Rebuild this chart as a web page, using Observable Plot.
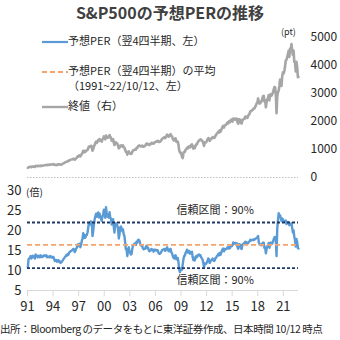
<!DOCTYPE html>
<html><head><meta charset="utf-8">
<script src="https://cdn.jsdelivr.net/npm/d3@7"></script>
<script src="https://cdn.jsdelivr.net/npm/@observablehq/plot@0.6"></script>
<style>
body{margin:0;background:#fff;font-family:"Noto Sans CJK JP","Noto Sans",sans-serif;}
#root{position:relative;width:340px;height:340px;overflow:hidden;color:#262626;background:#fff}
.abs{position:absolute;white-space:nowrap;line-height:1}
#topPlot,#botPlot{position:absolute;left:0}
#topPlot{top:18px}
#botPlot{top:172px}
.plot-wrap svg{background:transparent;overflow:visible}
.leg{font-size:11px;color:#262626}
</style></head><body><div id="root">
<div id="topPlot" class="plot-wrap"></div>
<div id="botPlot" class="plot-wrap"></div>
<div class="abs" style="left:0;width:340px;top:4px;text-align:center;font-weight:bold;font-size:16px;color:#404040">S&amp;P500の予想PERの推移</div>
<div class="abs leg" style="left:42px;top:35px"><svg width="26" height="10" style="vertical-align:middle"><line x1="0" x2="26" y1="5" y2="5" stroke="#5b9bd5" stroke-width="2.2"/></svg>予想PER（翌4四半期、左）</div>
<div class="abs leg" style="left:42px;top:65px"><svg width="26" height="10" style="vertical-align:middle"><line x1="0" x2="26" y1="5" y2="5" stroke="#f4a46c" stroke-width="2" stroke-dasharray="5,3"/></svg>予想PER（翌4四半期）の平均</div>
<div class="abs leg" style="left:68px;top:80px">（1991~22/10/12、左）</div>
<div class="abs leg" style="left:42px;top:100px"><svg width="26" height="10" style="vertical-align:middle"><line x1="0" x2="26" y1="5" y2="5" stroke="#a6a6a6" stroke-width="2.4"/></svg>終値（右）</div>
<div class="abs" style="left:281px;top:27px;font-size:9px">(pt)</div>
<div class="abs" style="left:26px;top:187px;font-size:10px">(倍)</div>
<div class="abs" style="left:0;top:324px;font-size:10.5px;letter-spacing:-0.45px">出所：Bloomberg のデータをもとに東洋証券作成、日本時間 10/12 時点</div>
</div>
<script>
// S&P500 monthly close, Jan 1991 - Oct 2022 (pt)
const spx = [
343,367,375,375,390,371,388,395,388,392,375,417,
409,413,404,415,415,408,424,414,418,419,431,436,
439,443,452,440,450,451,448,464,459,468,462,466,
482,467,446,451,457,444,458,475,463,472,454,459,
470,487,501,515,533,545,562,562,584,582,606,616,
636,640,646,654,669,671,640,652,687,705,757,741,
786,791,757,801,848,885,954,899,947,915,955,970,
980,1049,1102,1112,1091,1134,1121,957,1017,1099,1164,1229,
1280,1238,1286,1335,1302,1373,1329,1320,1283,1363,1389,1469,
1394,1366,1499,1452,1421,1455,1431,1518,1437,1429,1315,1320,
1366,1240,1160,1249,1256,1224,1211,1134,1041,1060,1139,1148,
1130,1107,1147,1077,1067,990,912,916,815,886,936,880,
856,841,848,917,964,975,990,1008,996,1051,1058,1112,
1131,1145,1126,1107,1121,1141,1102,1104,1115,1130,1174,1212,
1181,1204,1181,1157,1192,1191,1234,1220,1229,1207,1249,1248,
1280,1281,1295,1311,1270,1270,1277,1304,1336,1378,1401,1418,
1438,1407,1421,1482,1531,1503,1455,1474,1527,1549,1481,1468,
1379,1331,1323,1386,1400,1280,1267,1283,1166,969,896,903,
826,735,690,873,919,919,987,1021,1057,1036,1096,1115,
1074,1104,1169,1187,1089,1031,1102,1049,1141,1183,1181,1258,
1286,1327,1326,1364,1345,1321,1292,1219,1131,1253,1247,1258,
1312,1366,1408,1398,1310,1362,1379,1407,1441,1412,1416,1426,
1498,1515,1569,1598,1631,1606,1686,1633,1682,1757,1806,1848,
1783,1859,1872,1884,1924,1960,1931,2003,1972,2018,2068,2059,
1995,2105,2068,2086,2107,2063,2104,1972,1920,2079,2080,2044,
1940,1932,2060,2065,2097,2099,2174,2171,2168,2126,2199,2239,
2279,2364,2363,2384,2412,2423,2470,2472,2519,2575,2648,2674,
2824,2714,2641,2648,2705,2718,2816,2902,2914,2712,2760,2507,
2704,2784,2834,2946,2752,2942,2980,2926,2977,3038,3141,3231,
3226,2954,2300,2912,3044,3100,3271,3500,3363,3270,3622,3756,
3714,3811,3973,4181,4204,4298,4395,4523,4308,4605,4567,4766,
4516,4374,4530,4132,4132,3785,4130,3955,3586,3589
];
// Forward PER (next 4 quarters), monthly, Jan 1991 - Oct 2022 (x)
const per = [
10.8,12.8,13.0,13.2,13.6,13.0,13.4,13.7,13.3,13.5,13.0,14.0,
13.8,13.6,13.3,13.7,13.6,13.3,13.8,13.4,13.5,13.4,13.7,13.8,
13.7,13.6,13.8,13.3,13.5,13.4,13.3,13.6,13.4,13.5,13.2,13.4,
13.4,12.9,12.4,12.5,12.6,12.2,12.4,12.6,12.2,12.3,11.9,12.1,
12.2,12.5,12.8,13.0,13.3,13.5,13.8,13.7,14.1,13.9,14.4,14.6,
14.8,14.9,15.0,15.2,15.4,15.3,14.6,14.9,15.5,15.7,16.5,16.1,
16.6,16.7,15.8,16.5,17.4,18.0,19.3,18.1,18.9,18.2,18.8,18.9,
19.5,20.8,21.8,22.0,21.5,22.3,22.0,18.6,19.8,21.5,22.8,23.5,
24.2,23.4,24.0,24.5,23.3,24.2,23.3,23.0,22.4,23.5,24.0,25.2,
24.0,23.2,25.8,24.4,23.5,24.0,23.2,24.6,23.2,23.0,21.5,21.8,
22.8,20.8,19.5,21.5,21.8,21.5,21.3,20.3,18.0,19.0,20.8,21.0,
20.5,19.8,20.3,19.0,18.6,17.0,15.3,15.4,13.6,14.8,15.8,14.9,
14.5,14.0,14.1,15.4,16.2,16.5,16.6,16.8,16.4,17.2,17.0,17.6,
17.7,17.5,16.8,16.3,16.2,16.1,15.5,15.3,15.4,15.4,15.9,16.2,
15.6,15.7,15.2,14.8,15.1,15.0,15.4,15.1,15.2,14.7,15.2,15.0,
15.2,15.0,15.1,15.0,14.3,14.2,14.2,14.4,14.7,15.1,15.2,15.3,
15.4,14.9,15.0,15.5,15.8,15.4,14.9,14.8,15.3,15.4,14.5,14.3,
13.6,13.2,13.0,13.7,13.8,12.8,12.8,13.1,12.0,10.2,9.6,10.3,
10.6,10.2,11.5,12.8,13.6,13.7,14.4,14.7,15.2,14.5,14.9,14.9,
14.2,14.3,14.6,14.7,13.3,12.6,13.2,12.5,13.2,13.6,13.3,13.8,
13.9,14.0,13.7,13.8,13.3,13.0,12.7,11.8,10.8,11.8,11.6,11.7,
12.0,12.5,13.0,12.8,11.9,12.3,12.5,12.7,13.0,12.6,12.4,12.5,
13.1,13.2,13.6,13.7,14.1,13.8,14.4,13.9,14.3,14.9,15.3,15.5,
14.8,15.4,15.3,15.3,15.5,15.8,15.5,15.9,15.5,15.8,16.2,16.1,
16.3,17.0,16.7,16.8,16.9,16.5,16.8,15.9,15.4,16.6,16.6,16.3,
15.5,15.4,16.5,16.6,16.8,16.7,17.2,17.1,17.0,16.6,17.0,17.1,
17.3,17.7,17.5,17.6,17.7,17.6,17.8,17.7,17.9,18.0,18.2,18.3,
18.6,17.1,16.6,16.4,16.5,16.3,16.7,17.0,16.9,15.6,15.8,14.3,
15.4,16.0,16.4,16.9,15.7,16.7,17.0,16.6,16.8,17.2,17.8,18.3,
18.4,17.5,13.6,20.5,22.5,24.3,23.5,23.8,23.0,22.4,23.0,22.8,
22.3,22.4,22.2,22.5,21.6,21.9,22.1,22.0,21.3,21.5,21.5,21.8,
20.6,19.5,20.0,18.5,17.6,16.0,17.9,17.2,15.6,15.5
];
const perMean = 16.4;      // 1991~22/10/12 average
const perUpper = 22.0;     // 90% interval upper
const perLower = 10.6;     // 90% interval lower
const spxTicks = [0,1000,2000,3000,4000,5000];
const perTicks = [5,10,15,20,25,30];
const tickYears = [1991,1994,1997,2000,2003,2006,2009,2012,2015,2018,2021];
const tickLabels = ["91","94","97","00","03","06","09","12","15","18","21"];
const ciLabel = "信頼区間：90%";

const dateOf = i => i === spx.length - 1 ? new Date(Date.UTC(2022,9,12)) : new Date(Date.UTC(1991, i, 15));
const spxData = spx.map((v,i) => ({date: dateOf(i), v}));
const perData = per.map((v,i) => ({date: dateOf(i), v}));
const xDomain = [new Date(Date.UTC(1991,0,1)), new Date(Date.UTC(2022,9,12))];
const tickDates = tickYears.map(y => new Date(Date.UTC(y,0,1)));
const fmt = d => tickLabels[tickYears.indexOf(d.getUTCFullYear())];
const font = '"Noto Sans CJK JP","Noto Sans",sans-serif';

const topChart = Plot.plot({
  width: 340, height: 166, marginLeft: 27, marginRight: 42, marginTop: 19, marginBottom: 7,
  style: {fontFamily: font, background: "transparent", color: "#262626", overflow: "visible"},
  x: {type: "utc", domain: xDomain, axis: null, label: null},
  y: {domain: [0, 5000], axis: null, label: null},
  marks: [
    Plot.ruleY([0], {stroke: "#bfbfbf", strokeDasharray: "1.5,1.5"}),
    Plot.line(spxData, {x: "date", y: "v", stroke: "#a6a6a6", strokeWidth: 2.6}),
    Plot.axisY(spxTicks, {anchor: "right", label: null, tickSize: 0, tickPadding: 12, fontSize: 12, tickFormat: d => String(d)})
  ]
});
document.getElementById("topPlot").appendChild(topChart);

const botChart = Plot.plot({
  width: 340, height: 145, marginLeft: 27, marginRight: 42, marginTop: 18, marginBottom: 27,
  style: {fontFamily: font, background: "transparent", color: "#262626", overflow: "visible"},
  x: {type: "utc", domain: xDomain, label: null},
  y: {domain: [5, 30], label: null},
  marks: [
    Plot.ruleY([5], {stroke: "#d9d9d9"}),
    Plot.line(perData, {x: "date", y: "v", stroke: "#5b9bd5", strokeWidth: 2.4}),
    Plot.ruleY([perMean], {stroke: "#f4a46c", strokeWidth: 1.8, strokeDasharray: "5,3"}),
    Plot.ruleY([perUpper, perLower], {stroke: "#1f3864", strokeWidth: 1.8, strokeDasharray: "3,2"}),
    Plot.text([{date: new Date(Date.UTC(2013,0,1)), v: 25.1}, {date: new Date(Date.UTC(2013,0,1)), v: 7.6}],
      {x: "date", y: "v", text: () => ciLabel, fontSize: 11, fill: "#262626"}),
    Plot.axisY(perTicks, {anchor: "left", label: null, tickSize: 0, tickPadding: 6, fontSize: 13, tickFormat: d => String(d)}),
    Plot.axisX(tickDates, {label: null, tickFormat: fmt, tickSize: 6, tickPadding: 5, stroke: "#d9d9d9", fontSize: 13})
  ]
});
document.getElementById("botPlot").appendChild(botChart);
</script>
</body></html>
